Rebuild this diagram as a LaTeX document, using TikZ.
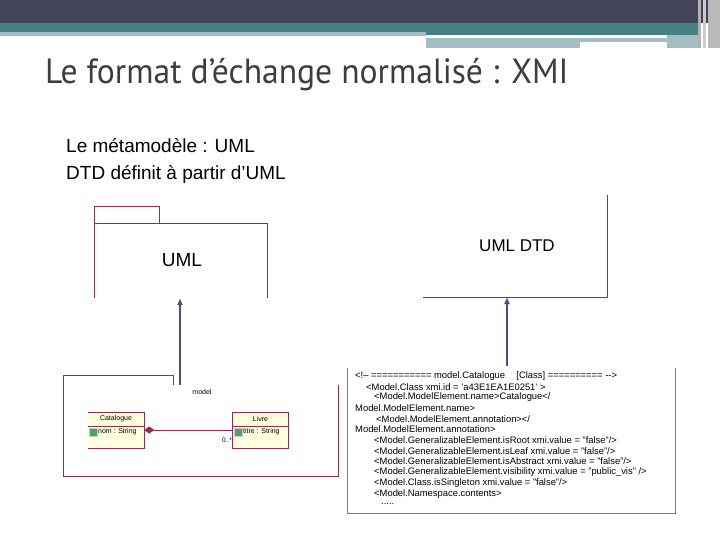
\documentclass[tikz,border=0pt]{standalone}
\usepackage{fontspec}
\setmainfont{Liberation Sans}
\newfontfamily\titlefont[FakeStretch=0.96]{PT Sans}
\usetikzlibrary{arrows.meta}
\definecolor{barDark}{RGB}{67,68,90}
\definecolor{barTeal}{RGB}{70,127,132}
\definecolor{barLight}{RGB}{163,190,194}
\definecolor{titleGrey}{RGB}{60,60,70}
\definecolor{pkgRed}{RGB}{140,50,70}
\definecolor{boxBrown}{RGB}{175,105,95}
\definecolor{arrowBlue}{RGB}{75,75,140}
\definecolor{classFill}{RGB}{255,255,222}
\definecolor{iconGreen}{RGB}{80,160,110}
\tikzset{
  xmlline/.style={anchor=west, inner sep=0, font=\fontsize{9.4}{11}\selectfont},
  small/.style={inner sep=0, font=\fontsize{7}{8}\selectfont},
  classbox/.style={fill=classFill, minimum width=56pt, minimum height=36pt, inner sep=0},
  icon/.style={fill=iconGreen, draw=gray!40, minimum size=8pt, inner sep=0}
}
\begin{document}
\begin{tikzpicture}[x=1pt, y=-1pt, >=latex]
\useasboundingbox (0,0) rectangle (720,540);
\fill[white] (0,0) rectangle (720,540);
\fill[barDark] (0,0) rectangle (720,23);
\fill[barTeal] (0,23) rectangle (698,35);
\fill[barLight] (0,32) rectangle (426,36);
\fill[barLight] (426,38) rectangle (667,42);
\fill[barLight] (426,42) rectangle (580,48);
\fill[barLight] (667,35) rectangle (698,48);
\fill[gray!60] (698,0) rectangle (701,48);
\fill[gray!40] (703,0) rectangle (706,48);
\fill[gray!55] (708,0) rectangle (720,48);
\node[anchor=base west, inner sep=0, text=titleGrey, font=\titlefont\fontsize{35}{35}\selectfont] (title) at (45,84) {Le format d’échange normalisé : XMI};
\node[anchor=base west, inner sep=0, font=\fontsize{19}{19}\selectfont] (meta) at (66,153) {Le métamodèle : UML};
\node[anchor=base west, inner sep=0, font=\fontsize{19}{19}\selectfont] (dtd) at (66,180) {DTD définit à partir d’UML};
\draw[pkgRed] (94,298) -- (94,206) -- (159,206) -- (159,223);
\draw[pkgRed] (94,223) -- (267,223) -- (267,298);
\node[inner sep=0, font=\fontsize{19}{19}\selectfont] (uml) at (182,260) {UML};
\draw[pkgRed] (607,195) -- (607,297) -- (423,297);
\node[inner sep=0, font=\fontsize{17}{17}\selectfont] (umldtd) at (517,246) {UML DTD};
\draw[pkgRed] (173,385) -- (173,375) -- (63,375) -- (63,476) -- (338,476) -- (338,385);
\node[small] (model) at (202,392) {model};
\node[classbox] (cat) at (116,430) {};
\draw[pkgRed] (cat.north west) -- (cat.north east) -- (cat.south east) -- (cat.south west);
\draw[pkgRed] (88,426) -- (144,426);
\node[small] (catName) at (116,419) {Catalogue};
\node[icon] (catIcon) at (93,432) {};
\node[small, anchor=west] (catAttr) at (98,432) {nom : String};
\node[classbox, draw=pkgRed] (livre) at (260.5,430) {};
\draw[pkgRed] (233,426) -- (288,426);
\node[small] (livreName) at (260.5,419) {Livre};
\node[icon] (livreIcon) at (238,432) {};
\node[small, anchor=west] (livreAttr) at (243,432) {titre : String};
\draw[pkgRed, {Diamond[length=10pt,width=7pt]}-] (cat.east) -- (livre.west);
\node[small, anchor=east, font=\fontsize{6.5}{7}\selectfont] (mult) at (232,440) {0..*};
\draw[boxBrown] (347,368) -- (347,513) -- (675,513) -- (675,368);
\node[xmlline] (x1) at (355,376) {<!-- =========== model.Catalogue\hspace{1.2em}[Class] ========== -{}->};
\node[xmlline] (x2) at (366,386.7) {<Model.Class xmi.id = 'a43E1EA1E0251' >};
\node[xmlline] (x3) at (374,397.4) {<Model.ModelElement.name>Catalogue</};
\node[xmlline] (x4) at (355,408.1) {Model.ModelElement.name>};
\node[xmlline] (x5) at (376,418.8) {<Model.ModelElement.annotation></};
\node[xmlline] (x6) at (355,429.5) {Model.ModelElement.annotation>};
\node[xmlline] (x7) at (374,440.2) {<Model.GeneralizableElement.isRoot xmi.value = "false"/>};
\node[xmlline] (x8) at (374,450.9) {<Model.GeneralizableElement.isLeaf xmi.value = "false"/>};
\node[xmlline] (x9) at (374,461.6) {<Model.GeneralizableElement.isAbstract xmi.value = "false"/>};
\node[xmlline] (x10) at (374,472.3) {<Model.GeneralizableElement.visibility xmi.value = "public\_vis" />};
\node[xmlline] (x11) at (374,483) {<Model.Class.isSingleton xmi.value = "false"/>};
\node[xmlline] (x12) at (374,493.7) {<Model.Namespace.contents>};
\node[xmlline] (x13) at (381,504.4) {.....};
\coordinate (umlBottom) at (180,298);
\coordinate (modelTop) at (180,385);
\coordinate (dtdBottom) at (507,297);
\coordinate (xmlTop) at (507,366);
\draw[arrowBlue, line width=2pt, -{Latex[length=7pt,width=6pt]}] (modelTop) -- (umlBottom);
\draw[arrowBlue, line width=2pt, -{Latex[length=7pt,width=6pt]}] (xmlTop) -- (dtdBottom);
\end{tikzpicture}
\end{document}
